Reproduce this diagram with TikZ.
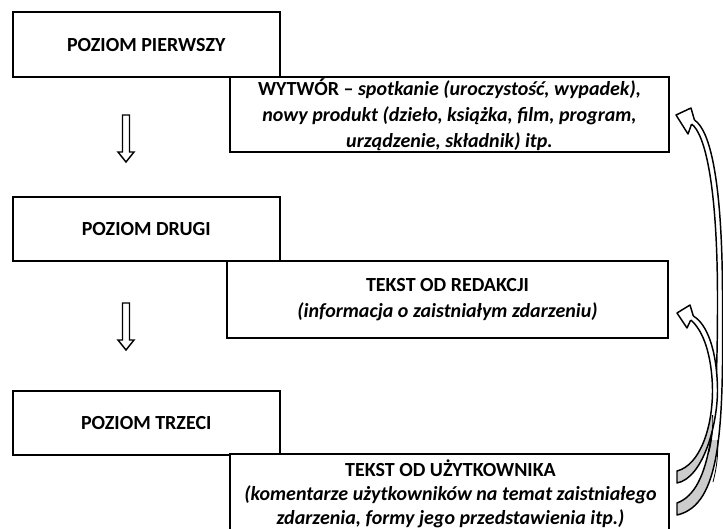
\documentclass[tikz,border=0pt]{standalone}
\usepackage{fontspec}
\setmainfont{Carlito}
\begin{document}
\begin{tikzpicture}[x=0.75pt,y=-0.75pt,
  box/.style={draw, line width=1.5pt, fill=white, inner sep=0pt, align=center,
    font=\fontsize{15}{19.5}\selectfont\bfseries},
  downarrow/.style={draw, line width=1.1pt, fill=white, line join=miter},
  arrline/.style={draw, line width=1.1pt, line join=round},
  tailfill/.style={fill=black!20}]
\useasboundingbox (0,0) rectangle (723,528);
\fill[white] (0,0) rectangle (723,528);

% level boxes
\node[box, minimum width=200.6pt, minimum height=48.4pt] (b1) at (146.25,44.75) {POZIOM PIERWSZY};
\node[box, minimum width=329.25pt, minimum height=56.25pt] (b2) at (449.5,114.5)
  {WYTWÓR – \textit{spotkanie (uroczystość, wypadek),}\\
   \textit{nowy produkt (dzieło, książka, film, program,}\\
   \textit{urządzenie, składnik) itp.}};
\node[box, minimum width=200.6pt, minimum height=48pt] (b3) at (146.25,229) {POZIOM DRUGI};
\node[box, minimum width=330.75pt, minimum height=57.75pt] (b4) at (447.5,299.5)
  {TEKST OD REDAKCJI\\ \textit{(informacja o zaistniałym zdarzeniu)}};
\node[box, minimum width=200.6pt, minimum height=48pt] (b5) at (146.25,423) {POZIOM TRZECI};
\node[box, minimum width=329.25pt, minimum height=60.75pt] (b6) at (449.5,494.5) {};
\node[box, draw=none, fill=none, font=\fontsize{15}{18}\selectfont\bfseries] (t6) at (450.5,494)
  {TEKST OD UŻYTKOWNIKA\\
   \textit{(komentarze użytkowników na temat zaistniałego}\\
   \textit{zdarzenia, formy jego przedstawienia itp.)}};

% down arrows
\draw[downarrow] (122.5,115) -- (129.5,115) -- (129.5,152) -- (134,152) -- (126,162) -- (118,152) -- (122.5,152) -- cycle;
\draw[downarrow] (122.5,303) -- (129.5,303) -- (129.5,340) -- (134,340) -- (126,350) -- (118,340) -- (122.5,340) -- cycle;

% curved arrow A (b6 -> b2)
\def\bodyA{(694.4,120) .. controls (710,130) and (722.5,180) .. (722.5,300)
  .. controls (723.5,430) and (721,505) .. (677,515) -- (677,503)
  .. controls (712,490) and (717.5,420) .. (717.5,300)
  .. controls (717.5,185) and (705,134) .. (691.6,124)}
\fill[white] \bodyA -- cycle;
\begin{scope}
  \clip \bodyA -- cycle;
  \fill[tailfill] (717.8,440) .. controls (718,460) and (716,470) .. (713,482) -- (730,490) -- (730,540) -- (660,540) -- (660,440) -- cycle;
\end{scope}
\draw[line width=0.6pt] (717.8,440) .. controls (718,460) and (716,470) .. (713,482);
\draw[arrline] \bodyA;
\fill[white] (694.4,120) -- (691,108) -- (676,115) -- (688,134) -- (691.6,124) -- cycle;
\draw[arrline] (694.4,120) -- (691,108) -- (676,115) -- (688,134) -- (691.6,124);

% curved arrow B (b6 -> b4)
\def\bodyB{(693.3,316) .. controls (707,324) and (717,350) .. (717.5,390)
  .. controls (717.5,425) and (703,478) .. (677,483) -- (677,471)
  .. controls (700,465) and (712.5,428) .. (712.5,390)
  .. controls (712,355) and (703,330) .. (690.7,320)}
\fill[white] \bodyB -- cycle;
\begin{scope}
  \clip \bodyB -- cycle;
  \fill[tailfill] (712.6,415) .. controls (713,430) and (712,440) .. (709,452) -- (730,460) -- (730,500) -- (660,500) -- (660,415) -- cycle;
\end{scope}
\draw[line width=0.6pt] (712.6,415) .. controls (713,430) and (712,440) .. (709,452);
\draw[arrline] \bodyB;
\fill[white] (693.3,316) -- (690,305) -- (677,313) -- (687,328) -- (690.7,320) -- cycle;
\draw[arrline] (693.3,316) -- (690,305) -- (677,313) -- (687,328) -- (690.7,320);
\end{tikzpicture}
\end{document}
